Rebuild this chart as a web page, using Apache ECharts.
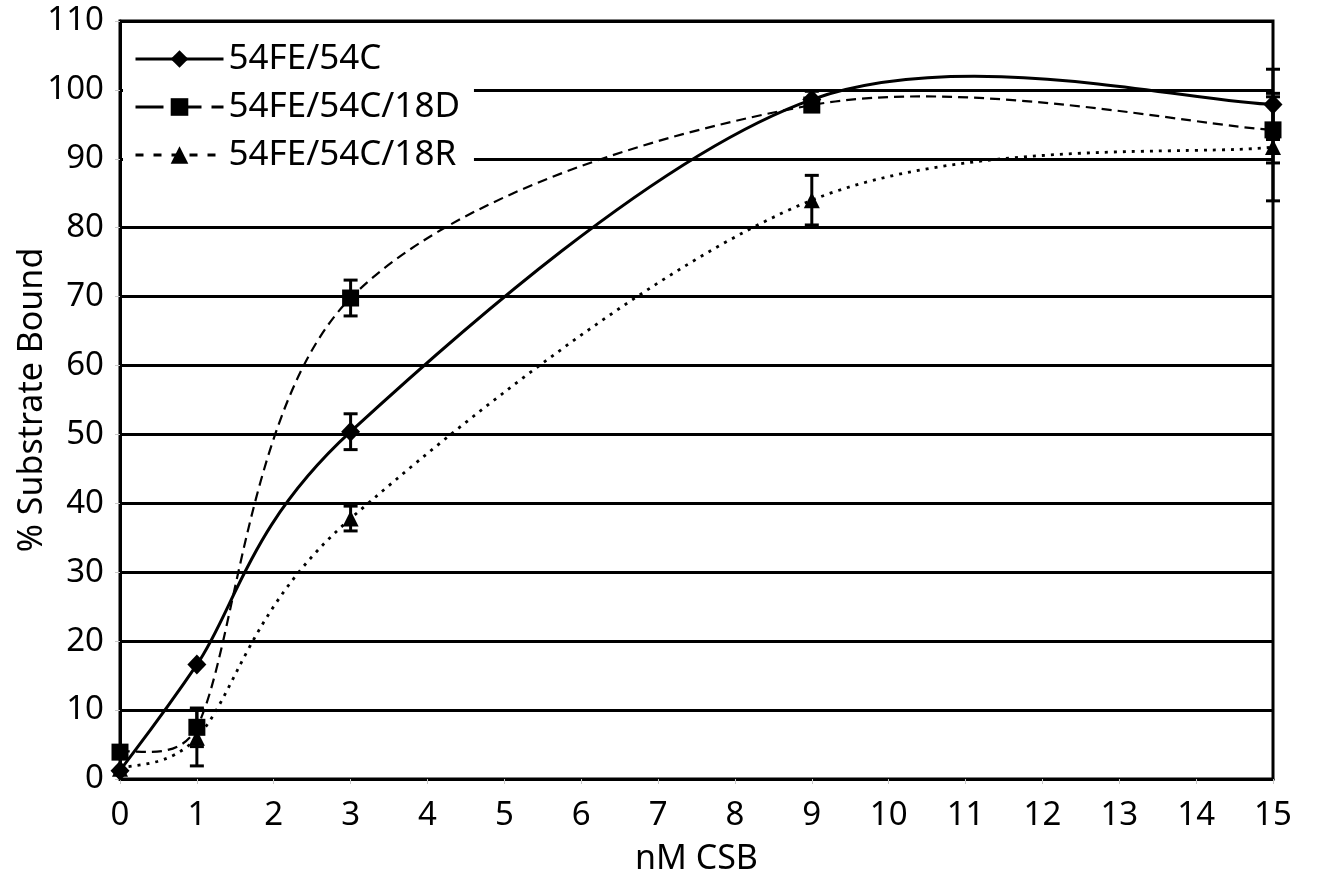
<!DOCTYPE html>
<html>
<head>
<meta charset="utf-8">
<script src="https://cdn.jsdelivr.net/npm/echarts@6/dist/echarts.min.js"></script>
<style>
  html, body { margin: 0; padding: 0; background: #fff; }
  #chart { width: 1318px; height: 876px; }
</style>
</head>
<body>
<div id="chart"></div>
<script>
// CSB concentration (nM) at which binding was measured
const doses = [0, 1, 3, 9, 15];

const seriesNames = ['54FE/54C', '54FE/54C/18D', '54FE/54C/18R'];

// % substrate bound and error (±) per construct
const bound54C = [1.2, 16.6, 50.4, 98.6, 97.9];
const err54C   = [0, 0, 2.6, 1.2, 5.1];

const bound18D = [3.9, 7.5, 69.8, 97.8, 94.2];
const err18D   = [0, 2.8, 2.6, 0.8, 4.8];

const bound18R = [1.5, 6.0, 37.8, 84.0, 91.7];
const err18R   = [0, 4.1, 1.8, 3.6, 7.8];

const FONT = 'Noto Sans';
const dashStyles = ['solid', [10, 6], [3, 6]];
const curveWidths = [3, 2.2, 2.8];
const symbols = ['diamond', 'rect', 'triangle'];
const symbolSizes = [[19, 20], [17, 17], [16, 16]];

// Bezier smoothing through the points (pixel space), arms limited to half a segment
function smoothPath(pts) {
  const n = pts.length;
  const dist = (a, b) => Math.hypot(a[0] - b[0], a[1] - b[1]);
  let d = 'M' + pts[0][0] + ',' + pts[0][1];
  for (let i = 0; i < n - 1; i++) {
    const p0 = pts[Math.max(i - 1, 0)], p1 = pts[i], p2 = pts[i + 1], p3 = pts[Math.min(i + 2, n - 1)];
    const d12 = dist(p1, p2), d02 = dist(p0, p2), d13 = dist(p1, p3);
    const f1 = d02 > 0 ? Math.min(1 / 6, d12 / 2 / d02) : 0;
    const f2 = d13 > 0 ? Math.min(1 / 6, d12 / 2 / d13) : 0;
    const c1 = [p1[0] + (p2[0] - p0[0]) * f1, p1[1] + (p2[1] - p0[1]) * f1];
    const c2 = [p2[0] - (p3[0] - p1[0]) * f2, p2[1] - (p3[1] - p1[1]) * f2];
    d += ' C' + c1[0] + ',' + c1[1] + ' ' + c2[0] + ',' + c2[1] + ' ' + p2[0] + ',' + p2[1];
  }
  return d;
}

function markerSeries(idx, values) {
  return {
    type: 'line',
    name: seriesNames[idx],
    data: doses.map((x, i) => [x, values[i]]),
    symbol: symbols[idx],
    symbolSize: symbolSizes[idx],
    showAllSymbol: true,
    clip: false,
    itemStyle: { color: '#000' },
    lineStyle: { width: 0, color: '#000', type: dashStyles[idx] },
    emphasis: { disabled: true },
    silent: true,
    z: 5
  };
}

function curveSeries(idx, values) {
  return {
    type: 'custom',
    name: seriesNames[idx],
    data: doses.map((x, i) => [x, values[i]]),
    encode: { x: 0, y: 1 },
    silent: true,
    z: 3,
    renderItem: function (params, api) {
      if (params.dataIndex !== 0) return null;
      const pts = doses.map((x, i) => api.coord([x, values[i]]));
      return {
        type: 'path',
        shape: { pathData: smoothPath(pts) },
        style: {
          fill: 'none',
          stroke: '#000',
          lineWidth: curveWidths[idx],
          lineDash: dashStyles[idx] === 'solid' ? null : dashStyles[idx]
        }
      };
    }
  };
}

function errorSeries(idx, values, errs) {
  const rows = [];
  doses.forEach((x, i) => {
    if (errs[i] > 0) rows.push([x, values[i] - errs[i], values[i] + errs[i]]);
  });
  return {
    type: 'custom',
    name: seriesNames[idx],
    data: rows,
    encode: { x: 0, y: [1, 2] },
    silent: true,
    z: 4,
    renderItem: function (params, api) {
      const x = api.value(0);
      const lo = api.coord([x, api.value(1)]);
      const hi = api.coord([x, api.value(2)]);
      const hw = 7;
      const st = { stroke: '#000', lineWidth: 3 };
      return {
        type: 'group',
        children: [
          { type: 'line', shape: { x1: lo[0], y1: lo[1], x2: hi[0], y2: hi[1] }, style: st },
          { type: 'line', shape: { x1: lo[0] - hw, y1: lo[1], x2: lo[0] + hw, y2: lo[1] }, style: st },
          { type: 'line', shape: { x1: hi[0] - hw, y1: hi[1], x2: hi[0] + hw, y2: hi[1] }, style: st }
        ]
      };
    }
  };
}

const chart = echarts.init(document.getElementById('chart'), null, { renderer: 'canvas' });

chart.setOption({
  animation: false,
  backgroundColor: '#fff',
  textStyle: { fontFamily: FONT, color: '#000' },
  grid: {
    left: 120, right: 45, top: 21, bottom: 97,
    outerBoundsMode: 'none',
    containLabel: false,
    show: true, borderColor: '#000', borderWidth: 3, backgroundColor: 'transparent'
  },
  legend: {
    orient: 'vertical',
    left: 123,
    top: 24,
    backgroundColor: '#fff',
    padding: [17, 14, 16, 11],
    itemWidth: 88,
    itemHeight: 22,
    itemGap: 12,
    selectedMode: false,
    textStyle: { fontFamily: FONT, fontSize: 35, color: '#000', lineHeight: 36 },
    data: seriesNames.map((n, i) => ({
      name: n,
      itemStyle: { color: '#000' },
      lineStyle: {
        color: '#000',
        width: 3,
        opacity: 1,
        type: i === 0 ? 'solid' : (i === 1 ? [28, 10] : [8, 10])
      }
    }))
  },
  xAxis: {
    type: 'value',
    min: 0, max: 15, interval: 1,
    name: 'nM CSB',
    nameLocation: 'middle',
    nameGap: 63,
    nameMoveOverlap: false,
    nameTextStyle: { fontFamily: FONT, fontSize: 34, color: '#000' },
    axisLine: { show: true, lineStyle: { color: '#000', width: 3 } },
    axisTick: { show: true, length: 5, lineStyle: { color: '#c8c8c8', width: 1 } },
    axisLabel: { fontFamily: FONT, fontSize: 33, color: '#000', margin: 20 },
    splitLine: { show: false }
  },
  yAxis: {
    type: 'value',
    min: 0, max: 110, interval: 10,
    name: '% Substrate Bound',
    nameLocation: 'middle',
    nameRotate: 90,
    nameGap: 71,
    nameMoveOverlap: false,
    nameTextStyle: { fontFamily: FONT, fontSize: 34, color: '#000' },
    axisLine: { show: true, lineStyle: { color: '#000', width: 3 } },
    axisTick: { show: true, length: 5, lineStyle: { color: '#c8c8c8', width: 1 } },
    axisLabel: { fontFamily: FONT, fontSize: 33, color: '#000', margin: 16, padding: [7, 0, 0, 0] },
    splitLine: { show: true, lineStyle: { color: '#000', width: 3 } }
  },
  series: [
    markerSeries(0, bound54C),
    markerSeries(1, bound18D),
    markerSeries(2, bound18R),
    curveSeries(0, bound54C),
    curveSeries(1, bound18D),
    curveSeries(2, bound18R),
    errorSeries(0, bound54C, err54C),
    errorSeries(1, bound18D, err18D),
    errorSeries(2, bound18R, err18R)
  ]
});
</script>
</body>
</html>
